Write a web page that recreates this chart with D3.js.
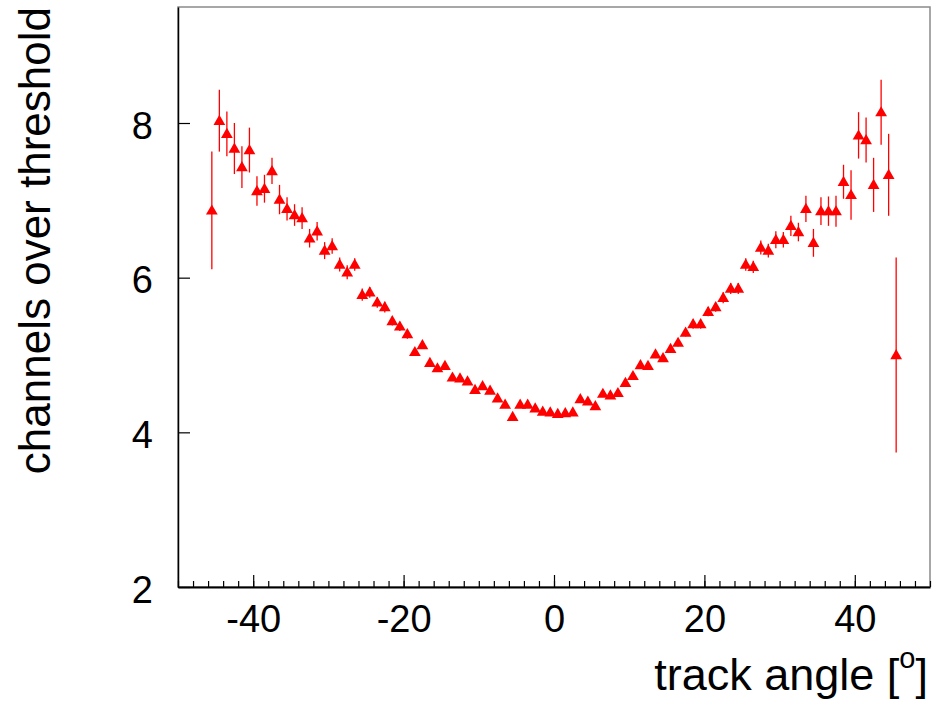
<!DOCTYPE html>
<html>
<head>
<meta charset="utf-8">
<script src="https://cdn.jsdelivr.net/npm/d3@7"></script>
<style>
  html, body { margin: 0; padding: 0; background: #fff; }
  svg { display: block; }
</style>
</head>
<body>
<svg id="chart" width="934" height="704"></svg>
<script>
// Bin centres of the track angle (degrees)
const angles = [
  -45.5, -44.5, -43.5, -42.5, -41.5, -40.5, -39.5, -38.5, -37.5, -36.5,
  -35.5, -34.5, -33.5, -32.5, -31.5, -30.5, -29.5, -28.5, -27.5, -26.5,
  -25.5, -24.5, -23.5, -22.5, -21.5, -20.5, -19.5, -18.5, -17.5, -16.5,
  -15.5, -14.5, -13.5, -12.5, -11.5, -10.5, -9.5, -8.5, -7.5, -6.5,
  -5.5, -4.5, -3.5, -2.5, -1.5, -0.5, 0.5, 1.5, 2.5, 3.5,
  4.5, 5.5, 6.5, 7.5, 8.5, 9.5, 10.5, 11.5, 12.5, 13.5,
  14.5, 15.5, 16.5, 17.5, 18.5, 19.5, 20.5, 21.5, 22.5, 23.5,
  24.5, 25.5, 26.5, 27.5, 28.5, 29.5, 30.5, 31.5, 32.5, 33.5,
  34.5, 35.5, 36.5, 37.5, 38.5, 39.5, 40.5, 41.5, 42.5, 43.5,
  44.5, 45.5
];

// Mean number of channels over threshold per bin
const channels = [
  6.87, 8.03, 7.86, 7.67, 7.43, 7.65, 7.12, 7.15, 7.38, 7.01,
  6.89, 6.81, 6.77, 6.51, 6.60, 6.35, 6.41, 6.17, 6.07, 6.17,
  5.78, 5.81, 5.68, 5.62, 5.44, 5.37, 5.27, 5.04, 5.13, 4.90,
  4.83, 4.86, 4.71, 4.70, 4.66, 4.55, 4.60, 4.54, 4.44, 4.36,
  4.20, 4.36, 4.36, 4.31, 4.27, 4.26, 4.24, 4.25, 4.26, 4.43,
  4.40, 4.34, 4.50, 4.48, 4.51, 4.64, 4.73, 4.87, 4.86, 5.01,
  4.96, 5.08, 5.16, 5.29, 5.40, 5.40, 5.56, 5.62, 5.74, 5.86,
  5.86, 6.17, 6.14, 6.39, 6.35, 6.49, 6.49, 6.67, 6.59, 6.89,
  6.45, 6.86, 6.86, 6.86, 7.24, 7.07, 7.84, 7.78, 7.20, 8.14,
  7.33, 5.00
];

// Statistical error on each mean
const errors = [
  0.76, 0.40, 0.29, 0.33, 0.27, 0.29, 0.19, 0.18, 0.17, 0.19,
  0.15, 0.14, 0.14, 0.12, 0.12, 0.11, 0.10, 0.09, 0.09, 0.08,
  0.08, 0.07, 0.07, 0.07, 0.06, 0.06, 0.06, 0.05, 0.05, 0.05,
  0.05, 0.05, 0.04, 0.04, 0.04, 0.04, 0.04, 0.04, 0.04, 0.04,
  0.04, 0.04, 0.04, 0.04, 0.04, 0.04, 0.04, 0.04, 0.04, 0.04,
  0.04, 0.04, 0.04, 0.04, 0.04, 0.04, 0.04, 0.04, 0.04, 0.05,
  0.05, 0.05, 0.05, 0.05, 0.06, 0.06, 0.06, 0.06, 0.07, 0.07,
  0.07, 0.08, 0.08, 0.09, 0.09, 0.11, 0.10, 0.13, 0.12, 0.17,
  0.18, 0.18, 0.19, 0.20, 0.22, 0.32, 0.30, 0.29, 0.35, 0.42,
  0.53, 1.26
];

const xTickLabels = [-40, -20, 0, 20, 40];
const yTickLabels = [2, 4, 6, 8];
const xTitle = "track angle [";
const xTitleSup = "o";
const yTitle = "channels over threshold";

const FONT = "'Liberation Sans', Arial, Helvetica, sans-serif";
const svg = d3.select("#chart");
svg.append("rect").attr("width", 934).attr("height", 704).attr("fill", "#fff");

const frame = { left: 178, right: 930, top: 7, bottom: 587 };

const x = d3.scaleLinear().domain([-50, 50]).range([frame.left, frame.right]);
const y = d3.scaleLinear().domain([2, 9.5]).range([frame.bottom, frame.top]);

// plain hyphen-minus for negative tick labels
const plainFormat = d => String(d);

// Frame box
svg.append("rect")
  .attr("x", frame.left).attr("y", frame.top)
  .attr("width", frame.right - frame.left)
  .attr("height", frame.bottom - frame.top)
  .attr("fill", "none")
  .attr("stroke", "#8a8a8a")
  .attr("stroke-width", 1.5);

// Minor ticks on the x axis every 2 degrees
const minorX = d3.range(-50, 50.001, 2);
svg.append("g")
  .attr("transform", `translate(0,${frame.bottom})`)
  .call(d3.axisBottom(x).tickValues(minorX).tickSizeInner(-6).tickSizeOuter(0).tickFormat(""))
  .call(g => g.select(".domain").remove())
  .call(g => g.selectAll("line").attr("stroke", "#000").attr("stroke-width", 1.2));

// Major x axis
svg.append("g")
  .attr("transform", `translate(0,${frame.bottom})`)
  .call(d3.axisBottom(x).tickValues(xTickLabels).tickFormat(plainFormat)
    .tickSizeInner(-12).tickSizeOuter(0).tickPadding(18))
  .call(g => g.select(".domain").attr("stroke", "#000").attr("stroke-width", 1.8))
  .call(g => g.selectAll("line").attr("stroke", "#000").attr("stroke-width", 1.2))
  .call(g => g.selectAll("text")
    .attr("font-family", FONT).attr("font-size", 38).attr("fill", "#000"));

// y axis
svg.append("g")
  .attr("transform", `translate(${frame.left},0)`)
  .call(d3.axisLeft(y).tickValues(yTickLabels).tickFormat(plainFormat)
    .tickSizeInner(-12).tickSizeOuter(0).tickPadding(25))
  .call(g => g.select(".domain").attr("stroke", "#000").attr("stroke-width", 1.5))
  .call(g => g.selectAll("line").attr("stroke", "#000").attr("stroke-width", 1.2))
  .call(g => g.selectAll("text")
    .attr("font-family", FONT).attr("font-size", 38).attr("fill", "#000").attr("dy", "0.4em"));

// Axis titles
const xt = svg.append("text")
  .attr("x", frame.right - 2).attr("y", 690)
  .attr("text-anchor", "end")
  .attr("font-family", FONT).attr("font-size", 45).attr("fill", "#000");
xt.append("tspan").text(xTitle);
xt.append("tspan").attr("font-size", 29).attr("dy", -22).text(xTitleSup);
xt.append("tspan").attr("dy", 22).text("]");

svg.append("text")
  .attr("transform", `translate(50,${frame.top}) rotate(-90)`)
  .attr("text-anchor", "end")
  .attr("font-family", FONT).attr("font-size", 44).attr("fill", "#000")
  .text(yTitle);

// Data points with error bars
const points = angles.map((a, i) => ({ a, v: channels[i], e: errors[i] }));

const plot = svg.append("g");
plot.selectAll("line.err")
  .data(points)
  .join("line")
  .attr("class", "err")
  .attr("x1", d => x(d.a)).attr("x2", d => x(d.a))
  .attr("y1", d => y(d.v + d.e)).attr("y2", d => y(d.v - d.e))
  .attr("stroke", "#ff0000").attr("stroke-width", 1.3);

const tri = d3.symbol().type(d3.symbolTriangle).size(60);
plot.selectAll("path.mk")
  .data(points)
  .join("path")
  .attr("class", "mk")
  .attr("transform", d => `translate(${x(d.a)},${y(d.v) + 0.8})`)
  .attr("d", tri)
  .attr("fill", "#ff0000");
</script>
</body>
</html>
